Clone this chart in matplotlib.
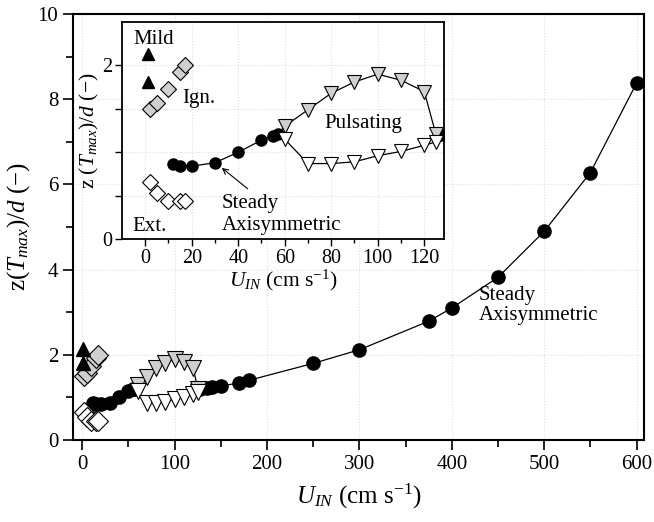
import numpy as np
import matplotlib.pyplot as plt

plt.rcParams['font.family'] = 'Liberation Serif'
plt.rcParams['mathtext.fontset'] = 'custom'
plt.rcParams['mathtext.rm'] = 'Liberation Serif'
plt.rcParams['mathtext.it'] = 'Liberation Serif:italic'

# steady axisymmetric flame, below and above the pulsating range
u_steady_lo = [12, 15, 20, 30, 40, 50, 55, 57]
z_steady_lo = [0.87, 0.84, 0.84, 0.88, 1.00, 1.14, 1.19, 1.21]
u_steady_hi = [127, 135, 140, 150, 170, 180, 250, 300, 375, 400, 450, 500, 550, 600]
z_steady_hi = [1.20, 1.22, 1.24, 1.27, 1.34, 1.40, 1.80, 2.12, 2.79, 3.10, 3.82, 4.90, 6.28, 8.38]

# pulsating flame: upper and lower limits of the oscillation
u_puls = [60, 70, 80, 90, 100, 110, 120, 125]
z_puls_max = [1.30, 1.49, 1.68, 1.81, 1.90, 1.83, 1.70, 1.21]
z_puls_min = [1.15, 0.87, 0.87, 0.89, 0.96, 1.01, 1.08, 1.12]

# ignition / extinction points and mild combustion
u_ign = [2, 5, 10, 15, 17]
z_ign = [1.50, 1.57, 1.73, 1.92, 2.00]
u_ext = [2, 5, 10, 15, 17]
z_ext = [0.66, 0.53, 0.44, 0.44, 0.44]
u_mild = [1, 1]
z_mild = [2.13, 1.81]

GRAY = '#d0d0d0'


def draw_data(ax, ms):
    lw = 0.9
    ax.plot(u_steady_lo, z_steady_lo, 'k-', lw=lw, zorder=2)
    ax.plot(u_steady_hi, z_steady_hi, 'k-', lw=lw, zorder=2)
    ax.plot([u_steady_lo[-1]] + u_puls + [u_steady_hi[0]],
            [z_steady_lo[-1]] + z_puls_max + [z_steady_hi[0]], 'k-', lw=lw, zorder=2)
    ax.plot([u_steady_lo[-1]] + u_puls + [u_steady_hi[0]],
            [z_steady_lo[-1]] + z_puls_min + [z_steady_hi[0]], 'k-', lw=lw, zorder=2)
    ax.plot(u_steady_lo, z_steady_lo, 'o', ms=ms, mfc='k', mec='k', zorder=3)
    ax.plot(u_steady_hi, z_steady_hi, 'o', ms=ms, mfc='k', mec='k', zorder=3)
    ax.plot(u_puls, z_puls_max, 'v', ms=ms + 1.5, mfc=GRAY, mec='k', mew=0.8, zorder=4)
    ax.plot(u_puls, z_puls_min, 'v', ms=ms + 1.5, mfc='white', mec='k', mew=0.8, zorder=4)
    ax.plot(u_ign, z_ign, 'D', ms=ms + 0.5, mfc=GRAY, mec='k', mew=0.8, zorder=4)
    ax.plot(u_ext, z_ext, 'D', ms=ms + 0.5, mfc='white', mec='k', mew=0.8, zorder=4)
    ax.plot(u_mild, z_mild, '^', ms=ms, mfc='k', mec='k', zorder=4)


fig = plt.figure(figsize=(6.54, 5.22), dpi=100)

# main axes
ax = fig.add_axes([0.1116, 0.157, 0.8731, 0.816])
draw_data(ax, 9.5)
ax.set_xlim(-10, 608)
ax.set_ylim(0, 10)
ax.set_xticks([0, 100, 200, 300, 400, 500, 600])
ax.set_xticks([50, 150, 250, 350, 450, 550], minor=True)
ax.set_yticks([0, 2, 4, 6, 8, 10])
ax.set_yticks([1, 3, 5, 7, 9], minor=True)
ax.tick_params(which='both', direction='out', width=1.2, labelsize=15)
ax.tick_params(which='major', length=7)
ax.tick_params(which='minor', length=5)
for s in ax.spines.values():
    s.set_linewidth(1.5)
ax.grid(True, which='major', ls=':', color='#dddddd', lw=0.8)
ax.set_axisbelow(True)
ax.set_xlabel(r'$U_{IN}$ (cm s$^{-1}$)', fontsize=18, labelpad=6)
ax.set_ylabel(r'z$(T_{max})/d$ ($-$)', fontsize=18, labelpad=4)
ax.text(429, 2.82, 'Steady\nAxisymmetric', fontsize=15, ha='left', va='baseline',
        linespacing=1.05)

# inset: close-up of the low velocity range
ins = fig.add_axes([0.1865, 0.542, 0.4924, 0.4157])
draw_data(ins, 8)
ins.set_xlim(-10, 128.5)
ins.set_ylim(0, 2.5)
ins.set_xticks(np.arange(0, 121, 20))
ins.set_xticks(np.arange(10, 121, 20), minor=True)
ins.set_yticks([0, 0.5, 1, 1.5, 2])
ins.set_yticklabels(['0', '', '', '', '2'])
ins.tick_params(which='both', direction='out', width=1.0, labelsize=14.5, pad=2)
ins.tick_params(which='major', length=5)
ins.tick_params(which='minor', length=3)
for s in ins.spines.values():
    s.set_linewidth(1.3)
ins.grid(True, which='major', ls=':', color='#dddddd', lw=0.8)
ins.set_axisbelow(True)
ins.set_xlabel(r'$U_{IN}$ (cm s$^{-1}$)', fontsize=15.5, labelpad=0)
ins.set_ylabel(r'z $(T_{max})/d$ ($-$)', fontsize=15.5, labelpad=1)
ins.text(-5, 2.25, 'Mild', fontsize=15, va='baseline')
ins.text(16, 1.57, 'Ign.', fontsize=15, va='baseline')
ins.text(-5.5, 0.09, 'Ext.', fontsize=15, va='baseline')
ins.text(77, 1.28, 'Pulsating', fontsize=15, va='baseline')
ins.text(33, 0.36, 'Steady', fontsize=15, va='baseline')
ins.text(33, 0.10, 'Axisymmetric', fontsize=15, va='baseline')
ins.annotate('', xy=(32, 0.84), xytext=(45, 0.56),
             arrowprops=dict(arrowstyle='->', color='k', lw=0.8))

fig.savefig('out.png', dpi=100)
